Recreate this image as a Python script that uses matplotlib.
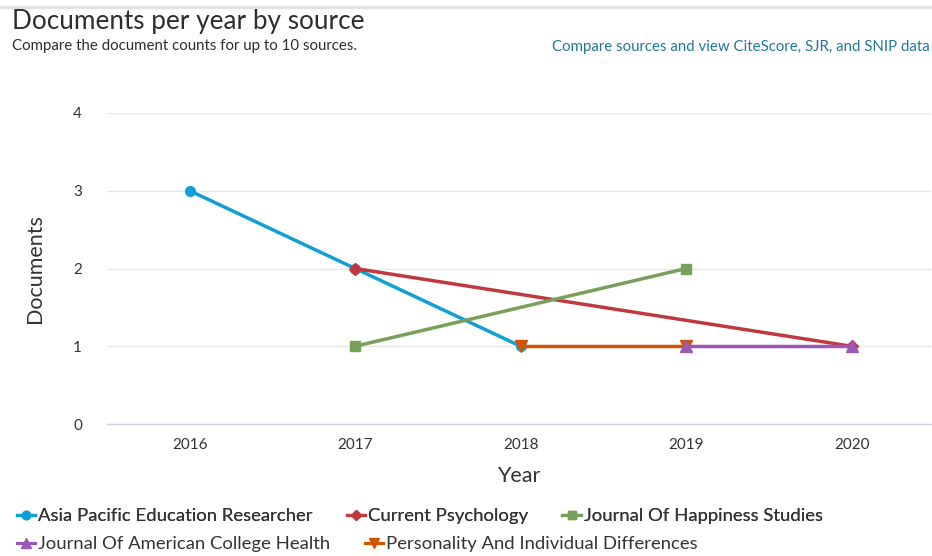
import matplotlib
matplotlib.use("Agg")
import matplotlib.pyplot as plt
from matplotlib.lines import Line2D

plt.rcParams['font.family'] = ['Lato', 'DejaVu Sans']

years = [2016, 2017, 2018, 2019, 2020]
series_names = ["Asia Pacific Education Researcher", "Current Psychology",
                "Journal Of Happiness Studies", "Journal Of American College Health",
                "Personality And Individual Differences"]
asia_x = [2016, 2017, 2018]
asia_y = [3, 2, 1]
curpsy_x = [2017, 2020]
curpsy_y = [2, 1]
happy_x = [2017, 2019]
happy_y = [1, 2]
jach_x = [2019, 2020]
jach_y = [1, 1]
pid_x = [2018, 2019]
pid_y = [1, 1]
yticks = [0, 1, 2, 3, 4]

colors = ["#10a0d4", "#c0393e", "#78a05a", "#9b59b6", "#d35400"]
markers = ["o", "D", "s", "^", "v"]
msizes = [7, 6, 7, 8, 8]

fig = plt.figure(figsize=(9.32, 5.56), dpi=100)
ax = fig.add_axes([107/932, 1-424/556, 824/932, (424-113)/556])

data = [(asia_x, asia_y), (curpsy_x, curpsy_y), (happy_x, happy_y), (jach_x, jach_y), (pid_x, pid_y)]
order = [0, 1, 2, 4, 3]
for i in order:
    xs, ys = data[i]
    ax.plot(xs, ys, color=colors[i], lw=2.5, marker=markers[i], ms=msizes[i],
            mec=colors[i], mfc=colors[i], zorder=3, clip_on=False)

ax.set_xlim(2015.5, 2020.48)
ax.set_ylim(0, 4)
ax.set_yticks(yticks)
ax.set_xticks(years)
ax.set_xticklabels([str(y) for y in years])
ax.grid(axis='y', color='#e6e6e6', lw=1)
ax.set_axisbelow(True)
for s in ['top', 'right', 'left']:
    ax.spines[s].set_visible(False)
ax.spines['bottom'].set_color('#ccd6eb')
ax.spines['bottom'].set_linewidth(1)
ax.tick_params(axis='both', length=0, labelsize=11, labelcolor='#333333')
ax.tick_params(axis='y', pad=18)
ax.tick_params(axis='x', pad=10)
ax.set_ylabel("Documents", fontsize=15.5, color='#333333', labelpad=20)
ax.set_xlabel("Year", fontsize=15.5, color='#333333', labelpad=10)

# header
fig.add_artist(Line2D([0, 1], [1-7/556, 1-7/556], color='#e4e4e4', lw=2.5))
fig.text(12/932, 1-21/556, "Documents per year by source", fontsize=18.8, color='#2e2e2e', va='center', ha='left')
fig.text(12/932, 1-46/556, "Compare the document counts for up to 10 sources.", fontsize=10.8, color='#2e2e2e', va='center', ha='left')
fig.text(930/932, 1-47/556, "Compare sources and view CiteScore, SJR, and SNIP data", fontsize=10.8, color='#1f7a99', va='center', ha='right')

def handle(i):
    return Line2D([], [], color=colors[i], lw=2.3, marker=markers[i], ms=msizes[i] - 1, mec=colors[i], mfc=colors[i])

leg1 = fig.legend([handle(0), handle(1), handle(2)], series_names[0:3], loc='center left',
                  bbox_to_anchor=(17/932, 1-516/556), ncol=3, frameon=False, fontsize=13.3,
                  handlelength=1.0, handletextpad=0.15, columnspacing=1.85, labelcolor='#333333',
                  borderpad=0, borderaxespad=0)
leg2 = fig.legend([handle(3), handle(4)], series_names[3:5], loc='center left',
                  bbox_to_anchor=(17/932, 1-544/556), ncol=2, frameon=False, fontsize=13.3,
                  handlelength=1.0, handletextpad=0.15, columnspacing=1.85, labelcolor='#333333',
                  borderpad=0, borderaxespad=0)
fig.add_artist(leg1)

fig.savefig("out.png", dpi=100)
